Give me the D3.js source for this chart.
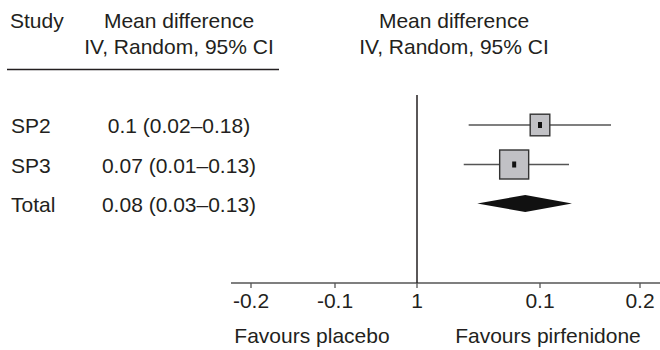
<!DOCTYPE html>
<html>
<head>
<meta charset="utf-8">
<script src="https://cdn.jsdelivr.net/npm/d3@7"></script>
<style>
body { margin: 0; background: #fff; }
text { font-family: "Liberation Sans", Arial, sans-serif; fill: #231f20; }
</style>
</head>
<body>
<div id="viz"></div>
<script>
var w = 660;
var h = 350;

// rows
var studies = ["SP2", "SP3", "Total"];
var estLabels = ["0.1 (0.02\u20130.18)", "0.07 (0.01\u20130.13)", "0.08 (0.03\u20130.13)"];
// plotted positions (as drawn in the figure)
var means = [0.1, 0.079, 0.088];
var lows = [0.042, 0.038, 0.049];
var highs = [0.171, 0.129, 0.132];
var weights = [32, 70, null];

// axis
var tickValues = [-0.2, -0.1, 0, 0.1, 0.2];
var tickLabels = ["-0.2", "-0.1", "1", "0.1", "0.2"];

var svg = d3.select("#viz")
    .append("svg")
    .attr("width", w)
    .attr("height", h);

// axis spacing in the figure is not even, so piecewise
var x = d3.scaleLinear()
    .domain(tickValues)
    .range([251, 335, 417, 540, 640]);

var y = d3.scalePoint()
    .domain(studies)
    .range([125, 204]);

var boxSize = d3.scaleSqrt()
    .domain([0, 70])
    .range([0, 29]);

var fs = "21px";

//__ headers
var head = svg.append("g").attr("class", "head");
head.append("text").attr("x", 10).attr("y", 28).style("font-size", fs).text("Study");
head.append("text").attr("x", 179).attr("y", 28).attr("text-anchor", "middle").style("font-size", fs).text("Mean difference");
head.append("text").attr("x", 179).attr("y", 54).attr("text-anchor", "middle").style("font-size", fs).text("IV, Random, 95% CI");
head.append("text").attr("x", 454).attr("y", 28).attr("text-anchor", "middle").style("font-size", fs).text("Mean difference");
head.append("text").attr("x", 454).attr("y", 54).attr("text-anchor", "middle").style("font-size", fs).text("IV, Random, 95% CI");
head.append("line")
    .attr("x1", 7).attr("x2", 279)
    .attr("y1", 69.5).attr("y2", 69.5)
    .attr("stroke", "#231f20")
    .attr("stroke-width", 1.3);

//__ row labels
var rows = svg.append("g").attr("class", "rows");
rows.selectAll("text.study")
    .data(studies)
    .enter().append("text")
    .attr("class", "study")
    .attr("x", 11)
    .attr("y", function (d) { return y(d) + 8; })
    .style("font-size", fs)
    .text(function (d) { return d; });

rows.selectAll("text.est")
    .data(estLabels)
    .enter().append("text")
    .attr("class", "est")
    .attr("x", 179)
    .attr("text-anchor", "middle")
    .attr("y", function (d, i) { return y(studies[i]) + 8; })
    .style("font-size", fs)
    .text(function (d) { return d; });

//__ axis
var axis = svg.append("g")
    .attr("transform", "translate(0,283)");
axis.append("line")
    .attr("x1", 231).attr("x2", 660)
    .attr("stroke", "#555").attr("stroke-width", 1.5);
axis.selectAll("line.tick")
    .data(tickValues)
    .enter().append("line")
    .attr("class", "tick")
    .attr("x1", function (d) { return x(d); })
    .attr("x2", function (d) { return x(d); })
    .attr("y1", 0).attr("y2", 5)
    .attr("stroke", "#555").attr("stroke-width", 1.3);
axis.selectAll("text")
    .data(tickValues)
    .enter().append("text")
    .attr("x", function (d) { return x(d); })
    .attr("y", 25)
    .attr("text-anchor", "middle")
    .style("font-size", fs)
    .text(function (d, i) { return tickLabels[i]; });

svg.append("text").attr("x", 312).attr("y", 343).attr("text-anchor", "middle").style("font-size", fs).text("Favours placebo");
svg.append("text").attr("x", 548).attr("y", 343).attr("text-anchor", "middle").style("font-size", fs).text("Favours pirfenidone");

// line of no effect
svg.append("line")
    .attr("x1", x(0)).attr("x2", x(0))
    .attr("y1", 95).attr("y2", 283)
    .attr("stroke", "#231f20").attr("stroke-width", 1.5);

//__ studies
var plot = svg.append("g").attr("class", "plot");
var idx = [0, 1];

plot.selectAll("line.ci")
    .data(idx)
    .enter().append("line")
    .attr("class", "ci")
    .attr("x1", function (i) { return x(lows[i]); })
    .attr("x2", function (i) { return x(highs[i]); })
    .attr("y1", function (i) { return y(studies[i]); })
    .attr("y2", function (i) { return y(studies[i]); })
    .attr("stroke", "#555").attr("stroke-width", 1.6);

plot.selectAll("rect.box")
    .data(idx)
    .enter().append("rect")
    .attr("class", "box")
    .attr("x", function (i) { return x(means[i]) - boxSize(weights[i]) / 2; })
    .attr("y", function (i) { return y(studies[i]) - boxSize(weights[i]) / 2 - (i == 0 ? 1 : 0); })
    .attr("width", function (i) { return boxSize(weights[i]); })
    .attr("height", function (i) { return boxSize(weights[i]) + (i == 0 ? 2 : 0); })
    .attr("fill", "#c1c1c5")
    .attr("stroke", "#333")
    .attr("stroke-width", 1.4);

plot.selectAll("rect.dot")
    .data(idx)
    .enter().append("rect")
    .attr("class", "dot")
    .attr("x", function (i) { return x(means[i]) - 2; })
    .attr("y", function (i) { return y(studies[i]) - 3; })
    .attr("width", 4)
    .attr("height", 6)
    .attr("fill", "#111");

// pooled diamond
var t = 2;
var cy = y(studies[t]) - 0.5;
plot.append("path")
    .attr("d", "M" + x(lows[t]) + "," + cy +
        "L" + x(means[t]) + "," + (cy - 8.5) +
        "L" + x(highs[t]) + "," + cy +
        "L" + x(means[t]) + "," + (cy + 8.5) + "Z")
    .attr("fill", "#111");
</script>
</body>
</html>
